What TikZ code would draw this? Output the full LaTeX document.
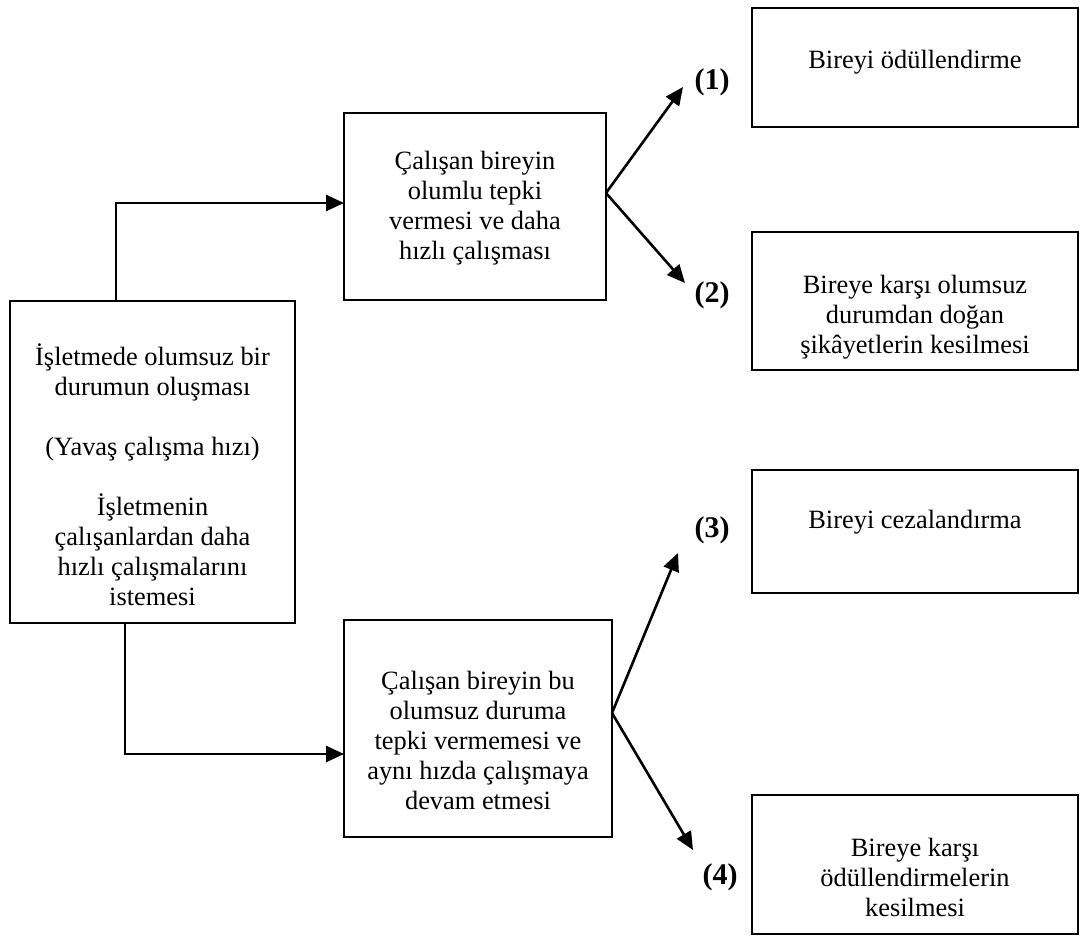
\documentclass[tikz,border=0pt]{standalone}
\usepackage{fontspec}
\setmainfont{Liberation Serif}
\usetikzlibrary{arrows.meta}
\begin{document}
\begin{tikzpicture}[x=1pt,y=-1pt,
  box/.style={draw, line width=2pt, inner sep=0pt, outer sep=0pt, anchor=north west},
  txt/.style={align=center, font=\fontsize{26.4}{30}\selectfont, inner sep=0pt},
  lab/.style={font=\fontsize{30}{34}\selectfont\bfseries, inner sep=0pt},
  conn/.style={line width=2.6pt, -{Triangle[length=18pt,width=16pt]}}
]
\useasboundingbox (0,0) rectangle (1080,936);
\fill[white] (0,0) rectangle (1080,936);

% boxes
\node[box, minimum width=285pt, minimum height=322pt] (L) at (10,301) {};
\node[box, minimum width=262pt, minimum height=187pt] (A) at (344,113) {};
\node[box, minimum width=268pt, minimum height=217pt] (B) at (344,620) {};
\node[box, minimum width=326pt, minimum height=119pt] (R1) at (752,8) {};
\node[box, minimum width=326pt, minimum height=138pt] (R2) at (752,232) {};
\node[box, minimum width=326pt, minimum height=123pt] (R3) at (752,470) {};
\node[box, minimum width=326pt, minimum height=139pt] (R4) at (752,795) {};

% texts
\node[txt] (Lt) at (152.5,475) {İşletmede olumsuz bir\\durumun oluşması\\[30pt](Yavaş çalışma hızı)\\[30pt]İşletmenin\\çalışanlardan daha\\hızlı çalışmalarını\\istemesi};
\node[txt] (At) at (475,208) {Çalışan bireyin\\olumlu tepki\\vermesi ve daha\\hızlı çalışması};
\node[txt] (Bt) at (478,740) {Çalışan bireyin bu\\olumsuz duruma\\tepki vermemesi ve\\aynı hızda çalışmaya\\devam etmesi};
\node[txt] (R1t) at (915,62) {Bireyi ödüllendirme};
\node[txt] (R2t) at (915,317) {Bireye karşı olumsuz\\durumdan doğan\\şikâyetlerin kesilmesi};
\node[txt] (R3t) at (915,522) {Bireyi cezalandırma};
\node[txt] (R4t) at (915,877) {Bireye karşı\\ödüllendirmelerin\\kesilmesi};

% labels
\node[lab] (l1) at (712,82) {(1)};
\node[lab] (l2) at (712,295) {(2)};
\node[lab] (l3) at (712,530) {(3)};
\node[lab] (l4) at (720,877) {(4)};

% arrow tips
\coordinate (t1) at (683,87);
\coordinate (t2) at (685,283);
\coordinate (t3) at (678,553);
\coordinate (t4) at (693,850);

% connectors
\draw[conn] ([xshift=106pt]L.north west) |- ([yshift=3.5pt]A.west);
\draw[conn] ([xshift=115pt]L.south west) |- ([yshift=-25.5pt]B.west);
\draw[conn] ([yshift=13.5pt]A.east) -- (t1);
\draw[conn] ([yshift=13.5pt]A.east) -- (t2);
\draw[conn] ([yshift=15.5pt]B.east) -- (t3);
\draw[conn] ([yshift=15.5pt]B.east) -- (t4);
\end{tikzpicture}
\end{document}
